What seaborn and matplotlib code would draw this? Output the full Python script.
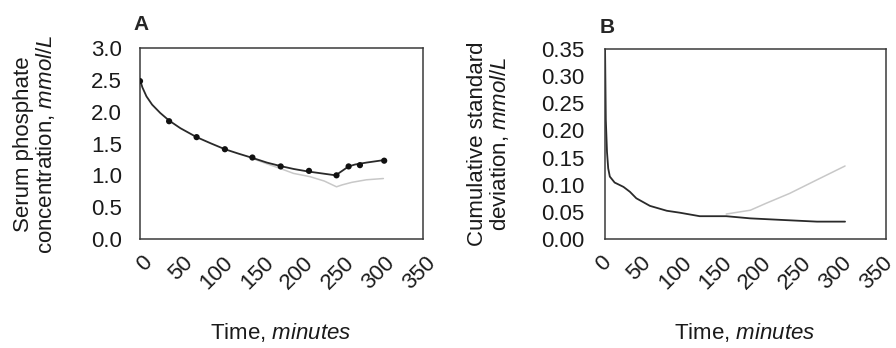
import matplotlib
matplotlib.use("Agg")
import matplotlib.pyplot as plt
import matplotlib.transforms as mtransforms
import numpy as np
import pandas as pd
import seaborn as sns

# Panel A: measured serum phosphate (points), fitted curve and alternative model
a_obs_t = [0, 36, 70, 105, 139, 174, 209, 243, 258, 272, 302]
a_obs_v = [2.48, 1.85, 1.60, 1.41, 1.28, 1.14, 1.07, 1.00, 1.14, 1.16, 1.23]

a_fit_t = [0, 3, 8, 15, 25, 36, 50, 70, 88, 105, 122, 140, 157, 174, 190,
           208, 225, 242, 250, 258, 266, 280, 302]
a_fit_v = [2.50, 2.38, 2.24, 2.11, 1.98, 1.86, 1.74, 1.60, 1.50, 1.41, 1.34,
           1.27, 1.20, 1.145, 1.10, 1.06, 1.03, 1.00, 1.07, 1.14, 1.17, 1.20, 1.24]

a_alt_t = [140, 155, 175, 190, 210, 228, 243, 250, 262, 280, 301]
a_alt_v = [1.26, 1.19, 1.10, 1.03, 0.98, 0.91, 0.82, 0.85, 0.89, 0.93, 0.95]

# Panel B: cumulative standard deviation of the two models
b_fit_t = [0, 1, 2.5, 4, 6, 12, 23, 31, 39, 56, 77, 93, 118, 151, 181, 222, 264, 299]
b_fit_v = [0.36, 0.22, 0.16, 0.13, 0.115, 0.104, 0.096, 0.087, 0.075, 0.061,
           0.052, 0.0485, 0.042, 0.042, 0.038, 0.035, 0.032, 0.032]

b_alt_t = [151, 181, 201, 230, 264, 299]
b_alt_v = [0.046, 0.053, 0.066, 0.084, 0.109, 0.1345]

x_ticks = [0, 50, 100, 150, 200, 250, 300, 350]
a_y_ticks = [0.0, 0.5, 1.0, 1.5, 2.0, 2.5, 3.0]
b_y_ticks = [0.00, 0.05, 0.10, 0.15, 0.20, 0.25, 0.30, 0.35]

sns.set_style("white")
plt.rcParams["font.family"] = ["Liberation Sans", "DejaVu Sans"]
plt.rcParams["mathtext.fontset"] = "custom"
plt.rcParams["mathtext.rm"] = "Liberation Sans"
plt.rcParams["mathtext.it"] = "Liberation Sans:italic"

W, H = 896, 348
fig = plt.figure(figsize=(W / 100, H / 100), dpi=100)


def px_axes(left, top, right, bottom):
    return fig.add_axes([left / W, 1 - bottom / H, (right - left) / W, (bottom - top) / H])


ax_a = px_axes(140, 48, 423, 239)
ax_b = px_axes(605, 49, 886, 239)

dark = "#2a2a2a"
light = "#c8c8c8"

df_a_fit = pd.DataFrame({"t": a_fit_t, "v": a_fit_v})
df_a_alt = pd.DataFrame({"t": a_alt_t, "v": a_alt_v})
df_a_obs = pd.DataFrame({"t": a_obs_t, "v": a_obs_v})
df_b_fit = pd.DataFrame({"t": b_fit_t, "v": b_fit_v})
df_b_alt = pd.DataFrame({"t": b_alt_t, "v": b_alt_v})

sns.lineplot(data=df_a_alt, x="t", y="v", ax=ax_a, color=light, lw=1.1,
             sort=False, estimator=None)
sns.lineplot(data=df_a_fit, x="t", y="v", ax=ax_a, color=dark, lw=1.3,
             sort=False, estimator=None)
sns.scatterplot(data=df_a_obs, x="t", y="v", ax=ax_a, color="#111111", s=20,
                edgecolor="none", zorder=5)

sns.lineplot(data=df_b_alt, x="t", y="v", ax=ax_b, color=light, lw=1.1,
             sort=False, estimator=None)
sns.lineplot(data=df_b_fit, x="t", y="v", ax=ax_b, color=dark, lw=1.3,
             sort=False, estimator=None)

fs = 16
for ax, yt, fmt, ypad, dx in ((ax_a, a_y_ticks, "{:.1f}", 10, 9),
                              (ax_b, b_y_ticks, "{:.2f}", 12, 3)):
    ax.set_xlim(0, 350)
    ax.set_ylim(yt[0], yt[-1])
    ax.set_xticks(x_ticks)
    ax.set_yticks(yt)
    ax.set_yticklabels([fmt.format(v) for v in yt], fontsize=fs, color="#1a1a1a")
    ax.set_xticklabels([str(v) for v in x_ticks], fontsize=fs, color="#1a1a1a",
                       rotation=45, ha="right", va="center", rotation_mode="anchor")
    ax.set_xlabel("")
    ax.set_ylabel("")
    ax.tick_params(axis="y", direction="out", length=3, width=0.8, pad=ypad, color="#333333")
    ax.tick_params(axis="x", direction="in", length=3, width=0.8, pad=15, color="#333333")
    for sp in ax.spines.values():
        sp.set_visible(True)
        sp.set_color("#3a3a3a")
        sp.set_linewidth(1.1)
    shift = mtransforms.ScaledTranslation(dx / 100, 0, fig.dpi_scale_trans)
    for lab in ax.get_xticklabels():
        lab.set_transform(lab.get_transform() + shift)

# axis titles
fig.text(35 / W, 1 - 144 / H, "Serum phosphate\nconcentration, $\\mathit{mmol/L}$",
         rotation=90, ha="center", va="center", fontsize=fs, linespacing=1.0, color="#1a1a1a")
fig.text(489 / W, 1 - 144 / H, "Cumulative standard\ndeviation, $\\mathit{mmol/L}$",
         rotation=90, ha="center", va="center", fontsize=fs, linespacing=1.0, color="#1a1a1a")
for cx in (281, 745):
    fig.text(cx / W, 1 - 332 / H, "Time, $\\mathit{minutes}$", ha="center", va="center",
             fontsize=fs, color="#1a1a1a")

fig.text(133 / W, 1 - 30 / H, "A", fontsize=15, fontweight="bold", ha="left", va="baseline")
fig.text(600 / W, 1 - 33 / H, "B", fontsize=15, fontweight="bold", ha="left", va="baseline")

fig.savefig("out.png", dpi=100, facecolor="white")
